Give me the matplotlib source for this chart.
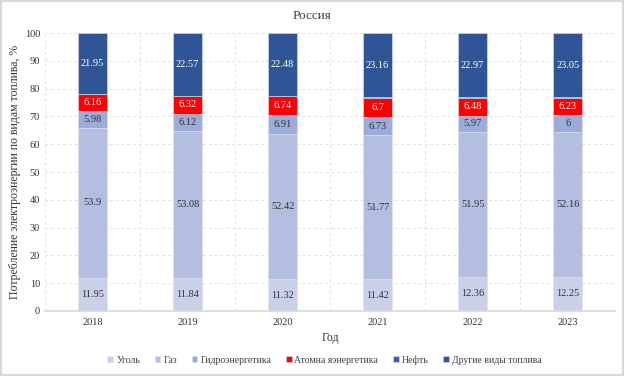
import numpy as np
import matplotlib.pyplot as plt
from matplotlib.patches import Rectangle

plt.rcParams["font.family"] = ["Liberation Serif", "DejaVu Serif"]

years = ["2018", "2019", "2020", "2021", "2022", "2023"]
coal = [11.95, 11.84, 11.32, 11.42, 12.36, 12.25]
gas = [53.9, 53.08, 52.42, 51.77, 51.95, 52.16]
hydro = [5.98, 6.12, 6.91, 6.73, 5.97, 6.0]
nuclear = [6.16, 6.32, 6.74, 6.7, 6.48, 6.23]
oil = [0.06, 0.07, 0.13, 0.22, 0.27, 0.31]
other = [21.95, 22.57, 22.48, 23.16, 22.97, 23.05]

series = [
    ("Уголь", coal, "#CBD0E9", "#333333", True),
    ("Газ", gas, "#B3BEE0", "#333333", True),
    ("Гидроэнергетика", hydro, "#9CACDA", "#333333", True),
    ("Атомна яэнергетика", nuclear, "#FF0000", "white", True),
    ("Нефть", oil, "#3D5FA3", "white", False),
    ("Другие виды топлива", other, "#2F5597", "white", True),
]

fig = plt.figure(figsize=(6.24, 3.76), dpi=100)
ax = fig.add_axes([0.072, 0.173, 0.914, 0.739])

x = np.arange(len(years))
bottom = np.zeros(len(years))
for name, vals, color, tcol, show in series:
    vals = np.array(vals)
    ax.bar(x, vals, width=0.31, bottom=bottom, color=color,
           edgecolor="#DDE2F2", linewidth=0.4, label=name, zorder=2)
    if show:
        for xi, b, v in zip(x, bottom, vals):
            ax.text(xi, b + v / 2, f"{v:g}", ha="center", va="center",
                    fontsize=7.5, color=tcol, zorder=3)
    bottom += vals

ax.set_xlim(-0.5, len(years) - 0.5)
ax.set_ylim(0, 100)
ax.set_yticks(range(0, 101, 10))
ax.set_xticks(x)
ax.set_xticklabels(years)
ax.set_xticks(np.arange(-0.5, len(years), 1), minor=True)
ax.tick_params(axis="both", which="both", length=0, labelsize=7.5, colors="#333333")
ax.tick_params(axis="x", pad=5)
ax.grid(axis="y", color="#E2E2E2", linestyle=(0, (3, 3)), linewidth=0.7, zorder=0)
ax.grid(axis="x", which="minor", color="#E2E2E2", linestyle=(0, (3, 3)),
        linewidth=0.7, zorder=0)
for s in ("top", "right", "left"):
    ax.spines[s].set_visible(False)
ax.spines["bottom"].set_color("#D9D9D9")
ax.spines["bottom"].set_linewidth(1.2)

ax.set_xlabel("Год", fontsize=8.5, color="#333333", labelpad=4)
ax.set_ylabel("Потребление электроэнергии по видам топлива, %", fontsize=8.5,
              color="#333333", labelpad=3)
fig.text(0.5, 0.958, "Россия", ha="center", va="center", fontsize=9.5, color="#404040")

leg = ax.legend(loc="center", bbox_to_anchor=(0.49, -0.176), ncol=6, frameon=False,
                fontsize=7, handlelength=0.6, handleheight=0.6, columnspacing=1.5,
                handletextpad=0.3)
for t in leg.get_texts():
    t.set_color("#404040")

fig.patches.append(Rectangle((0.002, 0.003), 0.996, 0.994, transform=fig.transFigure,
                             fill=False, edgecolor="#D9D9D9", linewidth=1.5))

fig.savefig("out.png", dpi=100)
